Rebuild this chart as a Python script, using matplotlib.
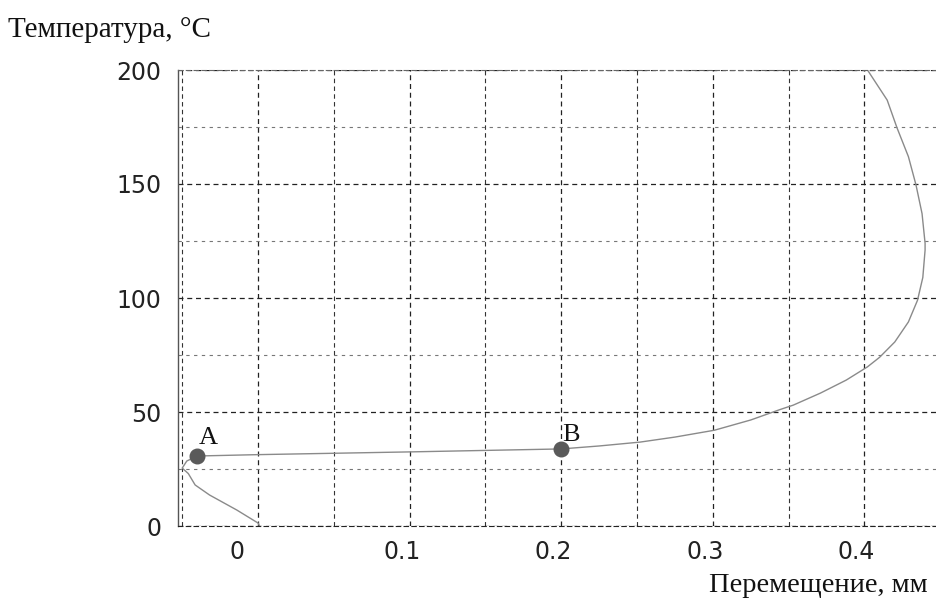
import numpy as np
import matplotlib
matplotlib.use("Agg")
import matplotlib.pyplot as plt
from matplotlib.ticker import MultipleLocator
import matplotlib.transforms as mtransforms

# displacement (mm) vs temperature (C)
disp = [0.001, 0.0, -0.014, -0.032, -0.0415, -0.046, -0.050, -0.047, -0.040,
        0.0, 0.1, 0.2,
        0.225, 0.252, 0.275, 0.301, 0.325, 0.344, 0.353, 0.371, 0.388,
        0.402, 0.410, 0.420, 0.429, 0.435, 0.4385, 0.440, 0.440, 0.438,
        0.434, 0.429, 0.4215, 0.415, 0.402]
temp = [0, 1.3, 7, 13.6, 18, 23, 25.4, 28.5, 30.7,
        31.3, 32.5, 33.8,
        35.1, 36.8, 39, 42, 46.5, 51, 53, 58.3, 64,
        69.8, 74, 80.7, 89.5, 99, 109, 121, 124, 137,
        149.6, 162, 174.6, 186.8, 200]

pt_names = ["A", "B"]
pt_x = [-0.040, 0.2]
pt_y = [30.7, 33.8]
pt_dy = [9, 6]

xticks = [0, 0.1, 0.2, 0.3, 0.4]
xlabels = ["0", "0.1", "0.2", "0.3", "0.4"]
yticks = [0, 50, 100, 150, 200]

serif = ["Liberation Serif", "DejaVu Serif"]

fig = plt.figure(figsize=(9.36, 6.03), dpi=100)
ax = fig.add_axes([178/936, 77/603, 1 - 178/936, 456/603])

ax.plot(disp, temp, color="#8a8a8a", lw=1.0)
ax.scatter(pt_x, pt_y, s=110, color="#5a5a5a", zorder=5)
for n, x, y, dy in zip(pt_names, pt_x, pt_y, pt_dy):
    ax.annotate(n, (x, y), xytext=(1, dy), textcoords="offset points",
                fontsize=19, family=serif, color="#111111")

ax.set_xlim(-0.0528, 0.4472)
ax.set_ylim(0, 200)
ax.set_xticks(xticks)
ax.set_xticklabels(xlabels)
ax.set_yticks(yticks)
ax.xaxis.set_minor_locator(MultipleLocator(0.05))
ax.yaxis.set_minor_locator(MultipleLocator(25))
ax.tick_params(which="both", length=0)
ax.tick_params(axis="x", pad=10, labelsize=17, labelcolor="#222222")
ax.tick_params(axis="y", pad=12, labelsize=17, labelcolor="#222222")

# labels sit a little left of their grid lines
shift = mtransforms.ScaledTranslation(-8/100, 0, fig.dpi_scale_trans)
for i, lab in enumerate(ax.get_xticklabels()):
    extra = -13/100 if i == 0 else 0
    lab.set_transform(lab.get_transform() + shift +
                      mtransforms.ScaledTranslation(extra, 0, fig.dpi_scale_trans))

ax.grid(which="major", axis="both", color="#222222", ls=(0, (4, 3)), lw=0.9)
ax.grid(which="minor", axis="x", color="#333333", ls=(0, (4, 3)), lw=0.8)
ax.grid(which="minor", axis="y", color="#777777", ls=(0, (3, 4)), lw=0.8)

ax.spines["right"].set_visible(False)
ax.spines["left"].set_color("#555555")
ax.spines["left"].set_linewidth(1.0)
ax.spines["top"].set_color("#666666")
ax.spines["top"].set_linestyle((0, (4, 3)))
ax.spines["bottom"].set_color("#222222")
ax.spines["bottom"].set_linestyle((0, (4, 3)))

fig.text(8/936, 1 - 30/603, "Температура, °C", family=serif, fontsize=21,
         va="center", ha="left", color="#111111")
fig.text(928/936, 1 - 586/603, "Перемещение, мм", family=serif, fontsize=20.5,
         va="center", ha="right", color="#111111")

fig.savefig("out.png", dpi=100)
